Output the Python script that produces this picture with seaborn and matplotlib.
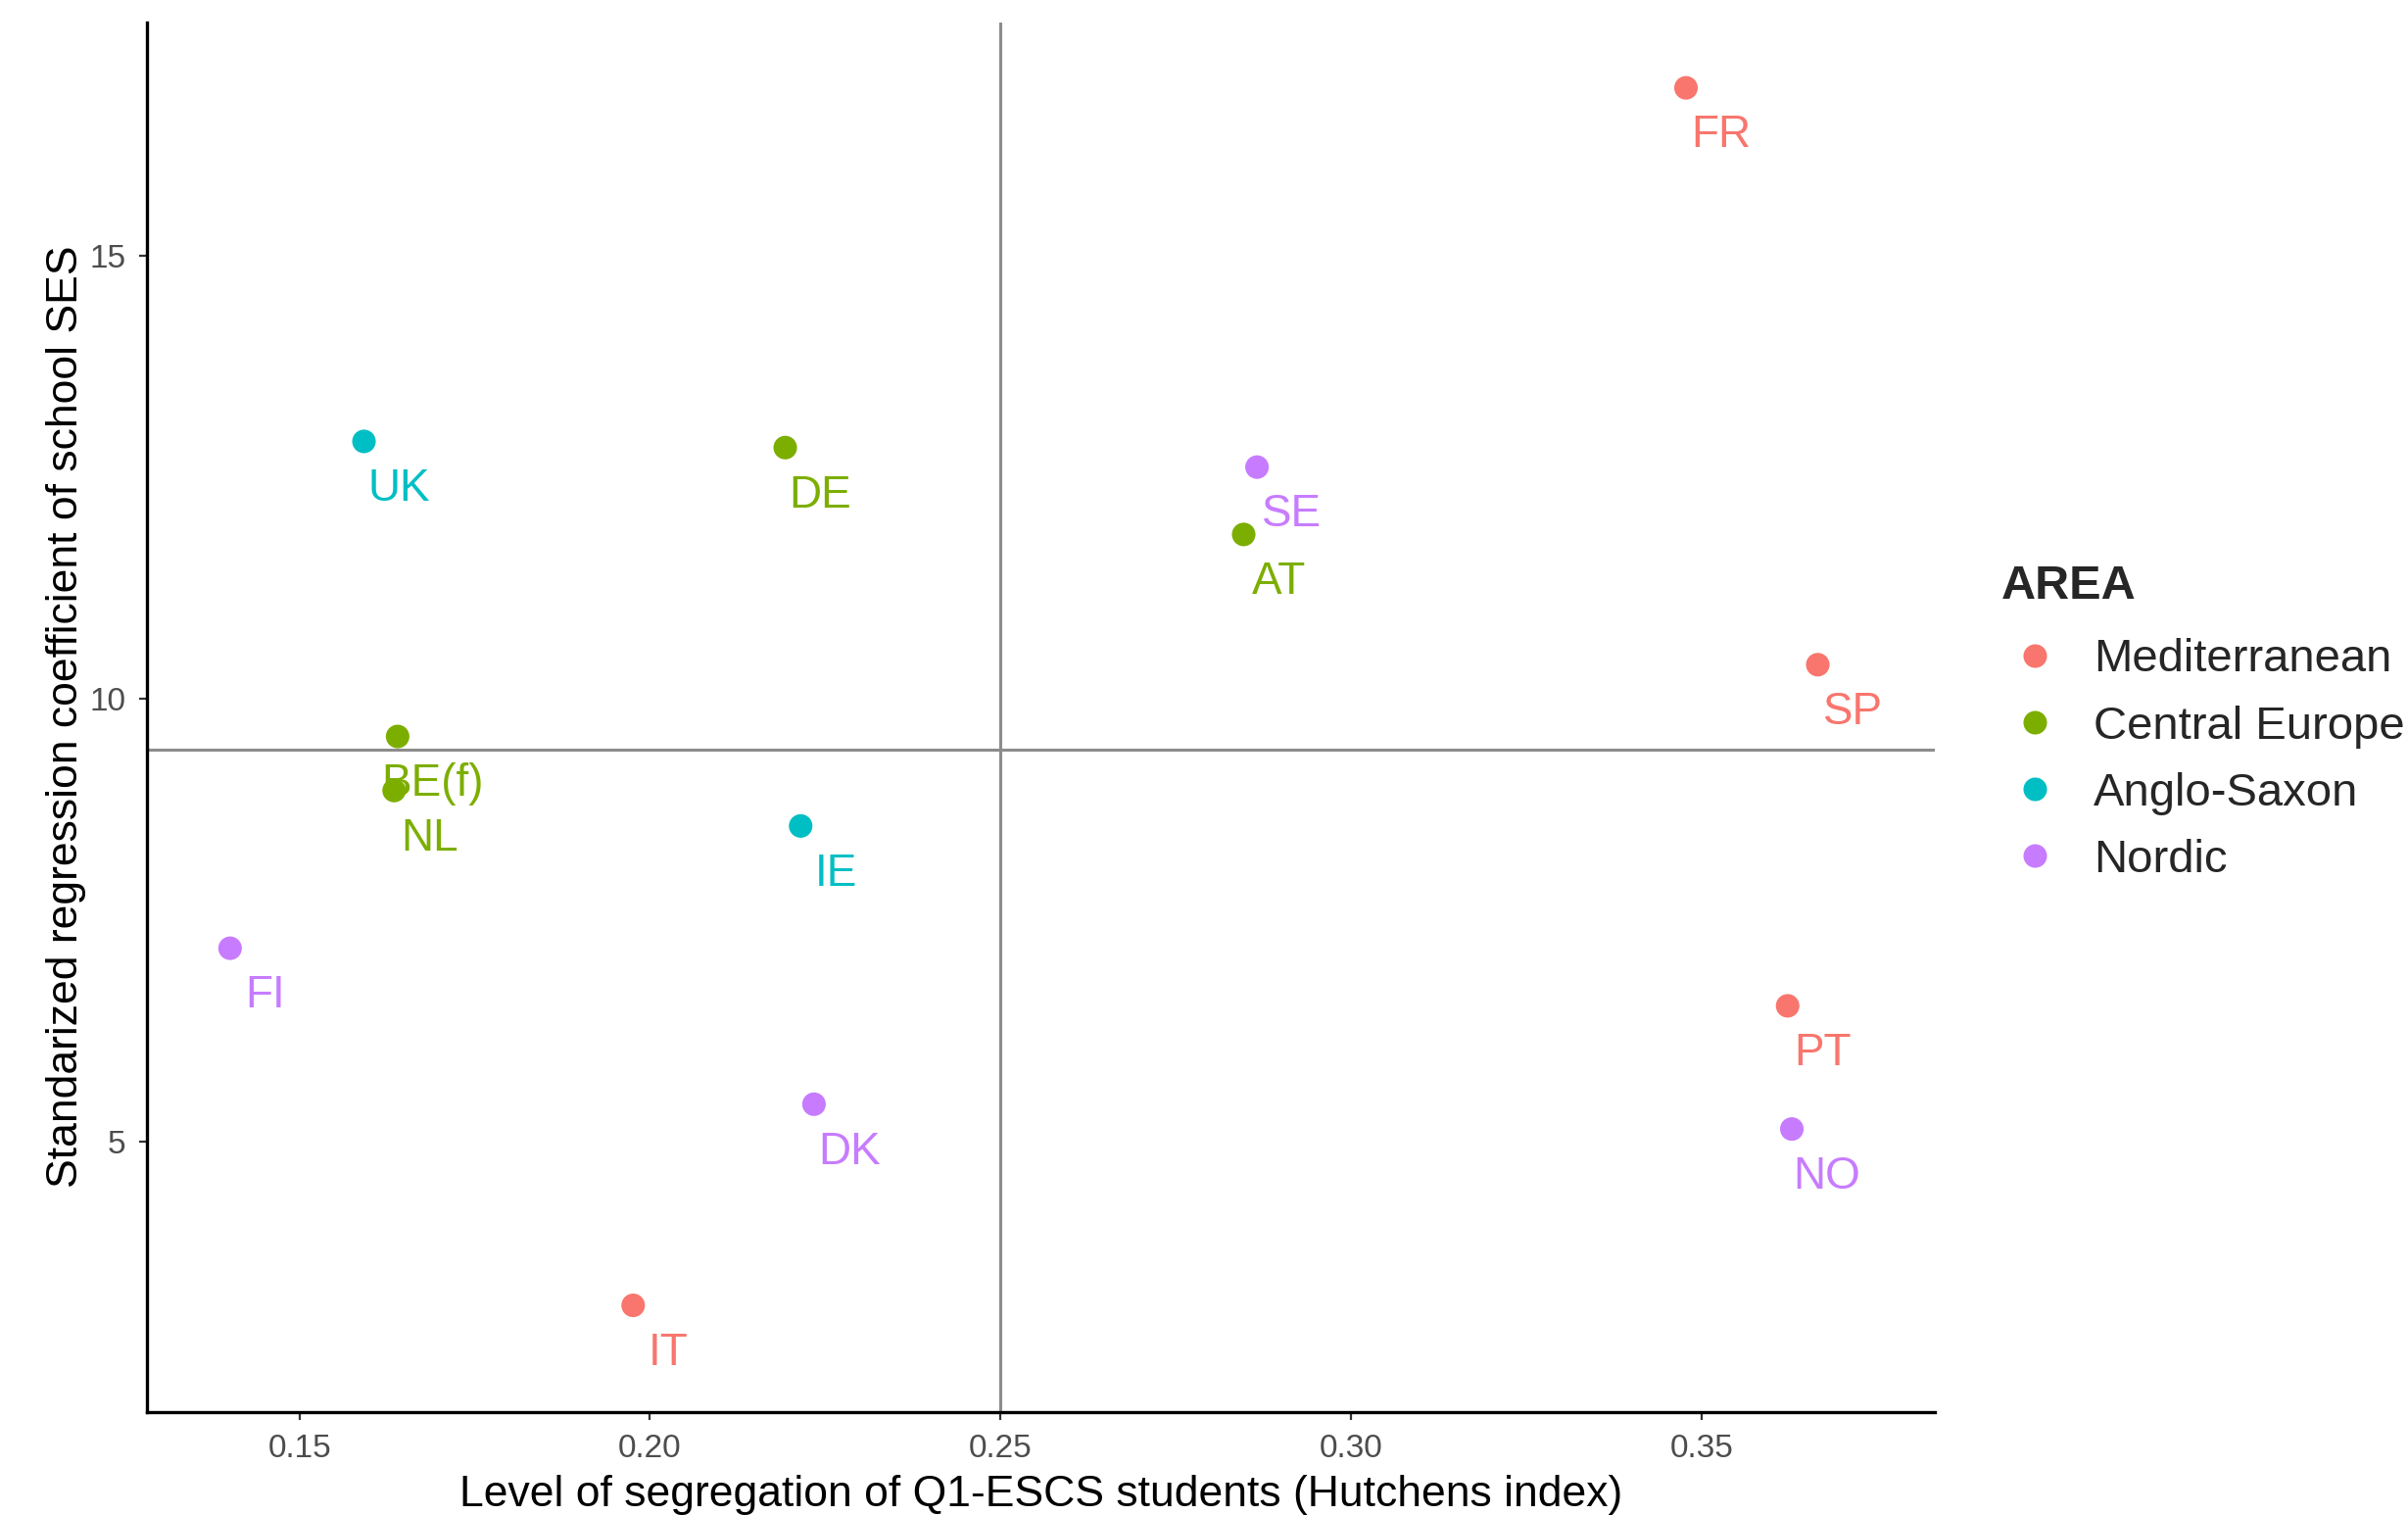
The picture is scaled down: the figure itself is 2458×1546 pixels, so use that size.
import numpy as np
import pandas as pd
import matplotlib
matplotlib.use("Agg")
import matplotlib.pyplot as plt
import seaborn as sns

# Country-level data: segregation index vs. school SES coefficient
countries = ["FR", "UK", "DE", "SE", "AT", "SP", "BE(f)", "NL", "IE", "FI", "PT", "DK", "NO", "IT"]
areas = ["Mediterranean", "Anglo-Saxon", "Central Europe", "Nordic", "Central Europe",
         "Mediterranean", "Central Europe", "Central Europe", "Anglo-Saxon", "Nordic",
         "Mediterranean", "Nordic", "Nordic", "Mediterranean"]
hutchens = [0.3478, 0.1592, 0.2193, 0.2866, 0.2847, 0.3666, 0.1640, 0.1635, 0.2215,
            0.1401, 0.3623, 0.2234, 0.3629, 0.1976]
ses_coef = [16.89, 12.90, 12.83, 12.61, 11.85, 10.38, 9.57, 8.96, 8.56, 7.18, 6.53,
            5.42, 5.14, 3.15]

area_order = ["Mediterranean", "Central Europe", "Anglo-Saxon", "Nordic"]
area_colors = ["#F8766D", "#7CAE00", "#00BFC4", "#C77CFF"]
x_ticks = [0.15, 0.20, 0.25, 0.30, 0.35]
y_ticks = [5, 10, 15]

df = pd.DataFrame({"country": countries, "AREA": areas,
                   "hutchens": hutchens, "ses": ses_coef})
palette = dict(zip(area_order, area_colors))

sns.set_theme(style="ticks")
plt.rcParams["font.family"] = ["Liberation Sans", "DejaVu Sans"]

fig = plt.figure(figsize=(12.29, 7.73), dpi=200)
ax = fig.add_axes([0.0612, 0.0682, 0.8035 - 0.0612, 0.9853 - 0.0682])

# Reference lines at the means of both variables
ax.axvline(df["hutchens"].mean(), color="#8C8C8C", lw=1.1, zorder=1)
ax.axhline(df["ses"].mean(), color="#8C8C8C", lw=1.1, zorder=1)

sns.scatterplot(data=df, x="hutchens", y="ses", hue="AREA", hue_order=area_order,
                palette=palette, s=75, edgecolor="none", linewidth=0, ax=ax, zorder=3)

for _, r in df.iterrows():
    ax.text(r["hutchens"] + 0.005, r["ses"] - 0.54, r["country"],
            color=palette[r["AREA"]], fontsize=16.5, ha="center", va="center", zorder=4)

ax.set_xlim(0.1283, 0.3833)
ax.set_ylim(1.95, 17.63)
ax.set_xticks(x_ticks)
ax.set_xticklabels([f"{v:.2f}" for v in x_ticks])
ax.set_yticks(y_ticks)
ax.set_yticklabels([str(v) for v in y_ticks])
ax.tick_params(axis="both", colors="#333333", labelcolor="#4D4D4D", labelsize=12,
               length=3, width=0.8, direction="out", pad=5)

ax.set_xlabel("Level of segregation of Q1-ESCS students (Hutchens index)", fontsize=16,
              color="black", labelpad=4)
ax.set_ylabel("Standarized regression coefficient of school SES", fontsize=16,
              color="black", labelpad=1)

for side in ["top", "right"]:
    ax.spines[side].set_visible(False)
for side in ["left", "bottom"]:
    ax.spines[side].set_color("black")
    ax.spines[side].set_linewidth(1.2)

handles, labels = ax.get_legend_handles_labels()
ax.get_legend().remove()
leg = fig.legend(handles, labels, title="AREA", loc="upper left",
                 bbox_to_anchor=(0.8138, 0.655), frameon=False, fontsize=17,
                 title_fontsize=17.5, markerscale=1.0, handlelength=1.46,
                 handletextpad=0.53, labelspacing=0.51, alignment="left")
leg.get_title().set_fontweight("bold")
# a little more room between the legend title and its entries
leg._legend_box.sep = 11.0

fig.savefig("out.png", dpi=200, facecolor="white")
